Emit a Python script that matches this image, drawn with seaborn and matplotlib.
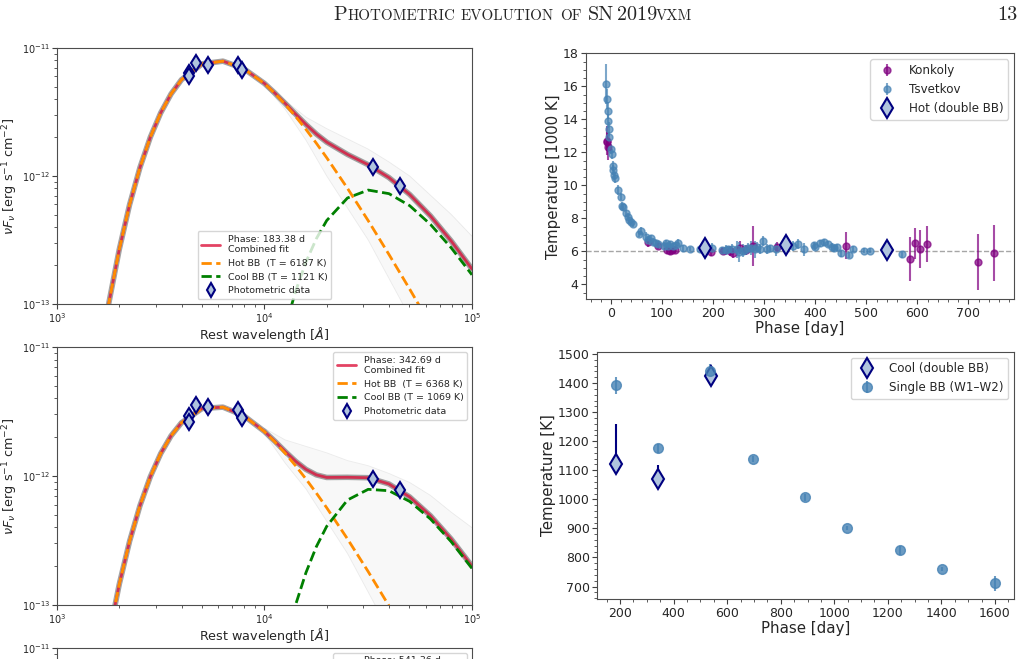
import numpy as np
import matplotlib
matplotlib.use('Agg')
import matplotlib.pyplot as plt
from matplotlib.ticker import AutoMinorLocator, LogLocator
from matplotlib.lines import Line2D
import seaborn as sns

sns.set_style("ticks")
plt.rcParams['font.family'] = ['DejaVu Sans']
plt.rcParams['axes.edgecolor'] = '0.3'

# ---- SED panels: log10(nu F_nu), on a log10(lambda) grid
log_lam = [3.20, 3.25, 3.30, 3.35, 3.40, 3.45, 3.50, 3.55, 3.60, 3.70, 3.80, 3.90, 4.00,
           4.05, 4.10, 4.15, 4.20, 4.25, 4.30, 4.40, 4.50, 4.60, 4.70, 4.80, 4.90, 5.00]
nan = np.nan
hot_183 = [-13.485, -12.993, -12.576, -12.224, -11.934, -11.697, -11.507, -11.359, -11.248,
           -11.124, -11.103, -11.161, -11.278, -11.355, -11.441, -11.535, -11.636, -11.744,
           -11.857, -12.096, -12.349, -12.613, -12.884, -13.162, -13.445, -13.731]
cool_183 = [nan] * 12 + [-13.929, -13.523, -13.183, -12.901, -12.672, -12.490, -12.348,
                         -12.172, -12.110, -12.138, -12.232, -12.378, -12.561, -12.772]
hot_343 = [-13.714, -13.242, -12.841, -12.506, -12.230, -12.005, -11.826, -11.688, -11.587,
           -11.476, -11.466, -11.532, -11.656, -11.735, -11.824, -11.920, -12.023, -12.132,
           -12.246, -12.487, -12.741, -13.006, -13.279, -13.557, -13.840, -14.127]
cool_343 = [nan] * 12 + [-14.106, -13.671, -13.304, -12.999, -12.749, -12.548, -12.390,
                         -12.186, -12.103, -12.114, -12.197, -12.333, -12.509, -12.715]

# spread of the posterior sample curves (faint grey)
band_lam = [4.0, 4.1, 4.2, 4.3, 4.4, 4.5, 4.6, 4.7, 4.8, 4.9, 5.0]
band_hi_183 = [-11.27, -11.41, -11.54, -11.63, -11.71, -11.79, -11.89, -12.00, -12.15, -12.30, -12.47]
band_lo_183 = [-11.29, -11.48, -11.72, -12.00, -12.25, -12.50, -12.80, -13.10, -13.40, -13.60, -13.80]
band_hi_343 = [-11.63, -11.72, -11.77, -11.82, -11.88, -11.92, -11.98, -12.05, -12.15, -12.28, -12.40]
band_lo_343 = [-11.67, -11.90, -12.10, -12.35, -12.60, -12.90, -13.20, -13.40, -13.50, -13.60, -13.70]

# photometry (log10 lambda, log10 nuFnu)
phot_lam = [3.634, 3.634, 3.671, 3.728, 3.874, 3.893, 4.524, 4.654]
phot_183 = [-11.198, -11.222, -11.117, -11.130, -11.130, -11.172, -11.933, -12.081]
phot_343 = [-11.533, -11.581, -11.450, -11.468, -11.486, -11.553, -12.021, -12.112]

# ---- temperature evolution
tsv_phase = [-9.8, -8.5, -5.9, -5.2, -4.0, -3.3, -0.6, 2.0, 3.3, 4.5, 6.5, 7.5, 13.7, 19.6,
             21.5, 24.0, 29.4, 32.6, 35.9, 39.0, 42.4, 54.1, 58.7, 68.5, 71.7, 78.3, 81.6,
             88.0, 91.3, 104, 108, 112, 116, 122, 127, 131.8, 141.6, 154.6, 174, 197, 216.6,
             225, 229.6, 236, 246, 250, 259, 262, 268.8, 275, 282, 286.4, 291.6, 298, 306,
             311, 324, 356.8, 366.6, 377.7, 397.3, 400, 409, 416.8, 425.3, 431.8, 436.4,
             443, 449.5, 465.8, 473, 495.8, 508, 570.8]
tsv_temp = [16.14, 15.23, 14.52, 13.90, 12.95, 13.41, 12.18, 11.90, 11.17, 10.93, 10.62,
            10.42, 9.71, 9.31, 8.76, 8.67, 8.30, 8.10, 7.90, 7.77, 7.66, 7.05, 7.25, 6.89,
            6.71, 6.79, 6.59, 6.49, 6.43, 6.35, 6.48, 6.30, 6.42, 6.30, 6.38, 6.52, 6.18,
            6.14, 6.14, 6.18, 6.08, 6.10, 6.12, 6.16, 6.12, 5.95, 6.04, 6.10, 6.18, 6.20,
            6.12, 6.28, 6.14, 6.63, 6.12, 6.18, 6.12, 6.32, 6.42, 6.12, 6.38, 6.28, 6.48,
            6.55, 6.44, 6.28, 6.18, 6.24, 5.88, 5.78, 6.14, 6.04, 6.04, 5.82]
tsv_err = [1.2, 0.6, 0.5, 0.4, 0.3, 0.4, 0.3, 0.3, 0.3, 0.3, 0.3, 0.3, 0.3, 0.2, 0.2, 0.2,
           0.2, 0.2, 0.2, 0.2, 0.2, 0.2, 0.2, 0.3, 0.2, 0.2, 0.2, 0.2, 0.2, 0.2, 0.2, 0.2,
           0.2, 0.2, 0.2, 0.2, 0.2, 0.15, 0.15, 0.3, 0.2, 0.3, 0.2, 0.3, 0.5, 0.6, 0.4, 0.3,
           0.3, 0.4, 0.5, 0.3, 0.3, 0.3, 0.3, 0.2, 0.4, 0.3, 0.3, 0.4, 0.2, 0.2, 0.2, 0.2,
           0.2, 0.2, 0.2, 0.2, 0.2, 0.2, 0.2, 0.15, 0.15, 0.2]
kon_phase = [-8.5, -7.0, -5.2, 73, 92.6, 110, 115, 120, 125, 195.7, 219.8, 233, 239.4,
             252.4, 264, 277.2, 325.5, 459.2, 585.1, 595, 606, 619.7, 719.5, 750.8]
kon_temp = [12.71, 12.65, 12.34, 6.58, 6.32, 6.05, 6.00, 6.05, 6.10, 5.98, 6.02, 6.02, 5.92,
            6.22, 6.08, 6.32, 6.24, 6.34, 5.54, 6.48, 6.12, 6.44, 5.33, 5.92]
kon_err = [0.9, 0.6, 0.8, 0.3, 0.2, 0.2, 0.2, 0.2, 0.2, 0.25, 0.2, 0.3, 0.3, 0.4, 0.3, 1.2,
           0.3, 0.8, 1.35, 0.95, 1.15, 1.1, 1.7, 1.7]
bb_phase = [183.38, 342.69, 541.36]
hot_temp = [6.187, 6.368, 6.08]
hot_err = [0.15, 0.2, 0.45]
cool_temp = [1121, 1069, 1425]
cool_err_lo = [26, 19, 15]
cool_err_hi = [137, 49, 20]
w12_phase = [185, 342, 537, 697, 892, 1049, 1247, 1403, 1600]
w12_temp = [1392, 1176, 1440, 1140, 1007, 901, 825, 760, 711]
w12_err = [30, 15, 25, 10, 12, 8, 15, 8, 25]

W, H = 1030, 659
fig = plt.figure(figsize=(W / 100, H / 100), dpi=100)
ax1 = fig.add_axes([0.0553, 0.5387, 0.4029, 0.3885])
ax2 = fig.add_axes([0.0553, 0.0819, 0.4029, 0.3915])
ax3 = fig.add_axes([0.0553, -0.3748, 0.4029, 0.3915])
ax4 = fig.add_axes([0.5689, 0.5458, 0.4155, 0.3733])
ax5 = fig.add_axes([0.5799, 0.0906, 0.4046, 0.3757])

lam = 10 ** np.array(log_lam)


def style_ticks(ax, size, pad):
    ax.tick_params(which='major', length=3.5, width=0.8, color='0.25', labelsize=size,
                   pad=pad, bottom=True, left=True)
    ax.tick_params(which='minor', length=2.2, width=0.6, color='0.25', bottom=True,
                   left=True)


def sed_legend(ax, phase, t_hot, t_cool, loc):
    handles = [Line2D([], [], color='crimson', lw=2, alpha=0.8),
               Line2D([], [], color='darkorange', lw=2, ls='--'),
               Line2D([], [], color='green', lw=2, ls='--'),
               Line2D([], [], ls='none', marker='d', ms=7, mec='navy',
                      mfc='lightsteelblue', mew=1.5)]
    labels = [f'Phase: {phase} d\nCombined fit', f'Hot BB  (T = {t_hot} K)',
              f'Cool BB (T = {t_cool} K)', 'Photometric data']
    ax.legend(handles, labels, loc=loc, fontsize=6.8)


def log_axes(ax):
    ax.set_xscale('log')
    ax.set_yscale('log')
    ax.set_xlim(1e3, 1e5)
    ax.set_ylim(1e-13, 1e-11)
    for axis in (ax.xaxis, ax.yaxis):
        axis.set_minor_locator(LogLocator(base=10, subs=np.arange(2, 10), numticks=20))
    style_ticks(ax, 7, 1.5)


def sed_panel(ax, hot, cool, blo, bhi, phot, phase, t_hot, t_cool, loc):
    hot = np.array(hot)
    cool = np.array(cool)
    comb = np.log10(10 ** hot + np.nan_to_num(10 ** cool))
    bl = 10 ** np.array(band_lam)
    ax.fill_between(bl, 10 ** np.array(blo), 10 ** np.array(bhi),
                    color='gray', alpha=0.05, lw=0)
    ax.plot(bl, 10 ** np.array(bhi), color='gray', lw=0.6, alpha=0.15)
    ax.plot(bl, 10 ** np.array(blo), color='gray', lw=0.6, alpha=0.15)
    sns.lineplot(x=lam, y=10 ** comb, ax=ax, color='0.35', lw=4, alpha=0.55,
                 estimator=None, sort=False)
    sns.lineplot(x=lam, y=10 ** comb, ax=ax, color='crimson', lw=2, alpha=0.8,
                 estimator=None, sort=False)
    sns.lineplot(x=lam, y=10 ** hot, ax=ax, color='darkorange', lw=2, linestyle='--',
                 estimator=None, sort=False)
    ok = ~np.isnan(cool)
    sns.lineplot(x=lam[ok], y=10 ** cool[ok], ax=ax, color='green', lw=2, linestyle='--',
                 estimator=None, sort=False)
    ax.plot(10 ** np.array(phot_lam), 10 ** np.array(phot), 'd', ms=8, mec='navy',
            mfc='lightsteelblue', mew=1.5)
    log_axes(ax)
    ax.set_xlabel(r'Rest wavelength [$Å$]', fontsize=9.2, labelpad=0)
    ax.set_ylabel(r'$\nu F_{\nu}$ [erg s$^{-1}$ cm$^{-2}$]', fontsize=9.2)
    ax.yaxis.set_label_coords(-0.088, 0.5)
    sed_legend(ax, phase, t_hot, t_cool, loc)


sed_panel(ax1, hot_183, cool_183, band_lo_183, band_hi_183, phot_183,
          '183.38', 6187, 1121, 'lower center')
sed_panel(ax2, hot_343, cool_343, band_lo_343, band_hi_343, phot_343,
          '342.69', 6368, 1069, 'upper right')

# third SED panel, cut by the page edge (only its top shows)
log_axes(ax3)
ax3.set_yticks([1e-11])
ax3.tick_params(labelbottom=False)
sed_legend(ax3, '541.36', 6080, 1425, 'upper right')

# hot temperature evolution
ax4.axhline(6, color='gray', ls='--', lw=1, alpha=0.7)
ax4.errorbar(kon_phase, kon_temp, yerr=kon_err, fmt='o', color='purple', alpha=0.7,
             ms=5, label='Konkoly')
ax4.errorbar(tsv_phase, tsv_temp, yerr=tsv_err, fmt='o', color='steelblue', alpha=0.7,
             ms=5, label='Tsvetkov')
ax4.errorbar(bb_phase, hot_temp, yerr=hot_err, fmt='d', ms=10, mec='navy',
             mfc='lightsteelblue', mew=1.5, ecolor='navy', label='Hot (double BB)')
ax4.set_xlim(-49, 789)
ax4.set_ylim(3.09, 18)
ax4.set_yticks([4, 6, 8, 10, 12, 14, 16, 18])
ax4.xaxis.set_minor_locator(AutoMinorLocator())
ax4.yaxis.set_minor_locator(AutoMinorLocator())
ax4.set_xlabel('Phase [day]', fontsize=10.8, labelpad=1)
ax4.set_ylabel('Temperature [1000 K]', fontsize=10.8, labelpad=1)
style_ticks(ax4, 9, 2)
ax4.legend(loc='upper right', fontsize=8.6)

# cool temperature evolution
ax5.errorbar(bb_phase, cool_temp, yerr=[cool_err_lo, cool_err_hi], fmt='d', ms=10,
             mec='navy', mfc='lightsteelblue', mew=1.5, ecolor='navy', elinewidth=1.5,
             label='Cool (double BB)')
ax5.errorbar(w12_phase, w12_temp, yerr=w12_err, fmt='o', color='steelblue', alpha=0.8,
             ms=7, label='Single BB (W1–W2)')
ax5.set_xlim(115, 1671)
ax5.set_ylim(656, 1508)
ax5.xaxis.set_minor_locator(AutoMinorLocator())
ax5.yaxis.set_minor_locator(AutoMinorLocator())
ax5.set_xlabel('Phase [day]', fontsize=10.8, labelpad=1)
ax5.set_ylabel('Temperature [K]', fontsize=10.8, labelpad=1)
style_ticks(ax5, 9, 2)
ax5.legend(loc='upper right', fontsize=8.6)

# running head in small caps
head = [('P', 14.5), ('HOTOMETRIC', 10.8), ('EVOLUTION', 10.8), ('OF', 10.8),
        ('SN', 14.5), ('2019', 14.5), ('VXM', 10.8)]
gaps = [0, 6, 6, 6, 3, -1, 0]
fig.canvas.draw()
rend = fig.canvas.get_renderer()
texts = [fig.text(0, 1 - 20 / H, s, fontsize=sz, family='cmr10', va='baseline')
         for s, sz in head]
widths = [t.get_window_extent(rend).width for t in texts]
total = sum(widths) + sum(gaps)
x = 513 - total / 2
for t, w, g in zip(texts, widths, gaps):
    t.set_x(x / W)
    x += w + g
fig.text(1018 / W, 1 - 20 / H, '13', fontsize=14.5, family='cmr10', ha='right',
         va='baseline')

fig.savefig('out.png', dpi=100)
